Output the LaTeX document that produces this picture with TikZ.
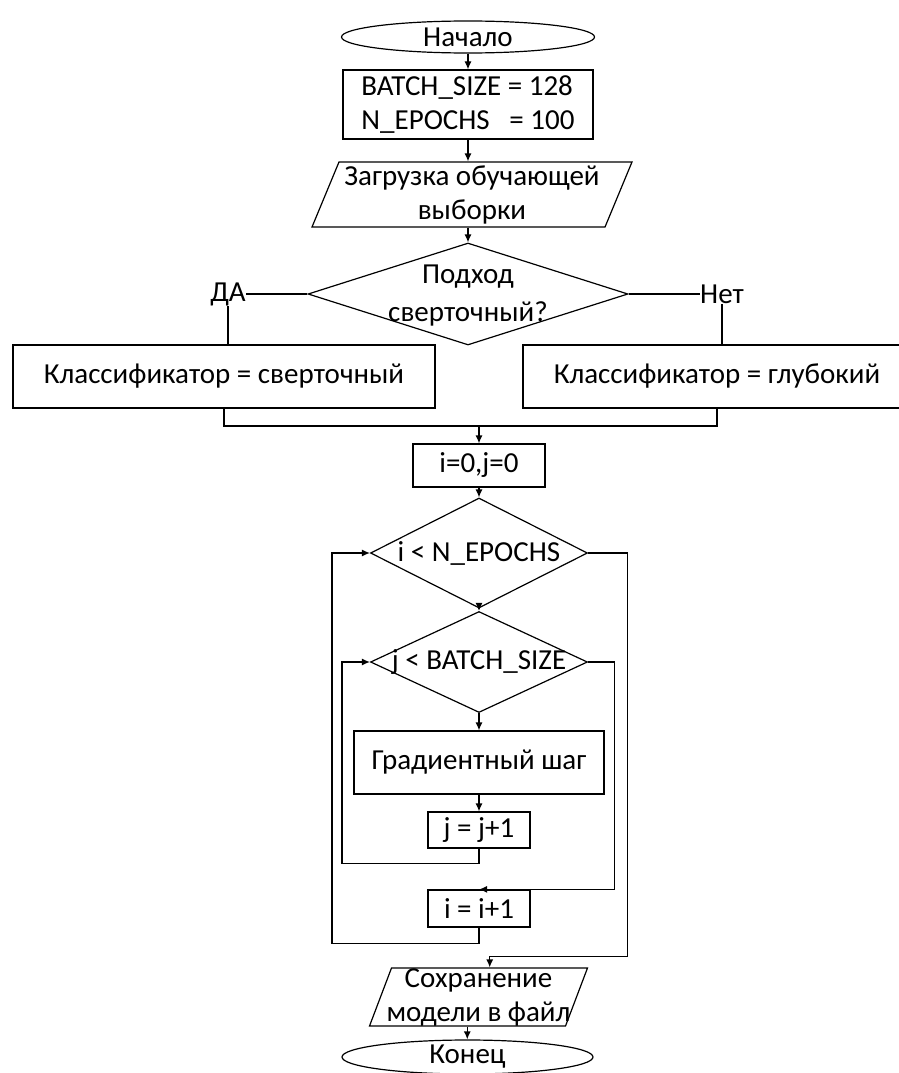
\documentclass[tikz,border=0pt]{standalone}
\usepackage{fontspec}
\setmainfont{Carlito}
\usetikzlibrary{shapes.geometric,arrows.meta}

\begin{document}
\begin{tikzpicture}[x=1pt,y=-1pt,line width=1.2pt,>={Latex[length=8pt,width=7pt]}]
	\tikzstyle{every node}+=[inner sep=0pt,font=\fontsize{29}{34}\selectfont]
	\tikzstyle{terminal}=[draw,ellipse]
	\tikzstyle{process}=[draw,rectangle,align=center]
	\tikzstyle{io}=[draw,rectangle]
	\tikzstyle{decision}=[draw,diamond]
	\useasboundingbox (0,0) rectangle (899,1073);
	\node [terminal,minimum width=253,minimum height=32] (start) at (468,37) {Начало};
	\node [process,align=left,minimum width=250,minimum height=69] (consts) at (468,104.5) {BATCH\_SIZE = 128\\N\_EPOCHS\ \ \ = 100};
	\node [io,xslant=0.415,minimum width=293,minimum height=65,
		label={[align=center]center:Загрузка обучающей\\выборки}] (load) at (472,194.5) {};
	\node [decision,minimum width=320,minimum height=102,
		label={[align=center,yshift=-2pt]center:Подход\\[4pt]сверточный?}] (approach) at (468,294) {};
	\node (yes) at (228,294) {ДА};
	\node (no) at (722,294) {Нет};
	\node [process,minimum width=422,minimum height=63] (conv) at (224,376.5) {Классификатор = сверточный};
	\node [process,minimum width=388,minimum height=63] (deep) at (717,376.5) {Классификатор = глубокий};
	\coordinate (merge) at (479,426);
	\node [process,minimum width=132,minimum height=43] (init) at (479,465.5) {i=0,j=0};
	\node [decision,minimum width=217,minimum height=110,
		label={center:i < N\_EPOCHS}] (epoch) at (479,553) {};
	\node [decision,minimum width=217,minimum height=101,
		label={center:j < BATCH\_SIZE}] (batch) at (479,662) {};
	\node [process,minimum width=250,minimum height=63] (grad) at (479,762.5) {Градиентный шаг};
	\node [process,minimum width=102,minimum height=36] (jinc) at (479,830) {j = j+1};
	\node [process,minimum width=102,minimum height=37] (iinc) at (479,908.5) {i = i+1};
	\node [io,xslant=0.379,minimum width=196,minimum height=58,
		label={[align=center]center:Сохранение\\модели в файл}] (save) at (478.5,997) {};
	\node [terminal,minimum width=251,minimum height=34] (stop) at (467.5,1057) {Конец};
	\draw [->] (start.south) -- (start.south |- consts.north);
	\draw [->] (consts.south) -- (consts.south |- load.north);
	\draw [->] (approach.north |- load.south) -- (approach.north);
	\draw (approach.west) -- (yes.east);
	\draw (approach.east) -- (no.west);
	\draw (yes.south) -- (yes.south |- conv.north);
	\draw (no.south) -- (no.south |- deep.north);
	\draw (conv.south) |- (merge) -| (deep.south);
	\draw [->] (merge) -- (init.north);
	\draw [->] (init.south) -- (epoch.north);
	\draw [->] (epoch.south) -- (batch.north);
	\draw [->] (batch.south) -- (grad.north);
	\draw [->] (grad.south) -- (jinc.north);
	\draw [->] (jinc.south) -- ++(0,15) -| ([xshift=-28pt]batch.west) -- (batch.west);
	\draw [->] (batch.east) -- ++(26,0) |- (iinc.north);
	\draw [->] (iinc.south) -- ++(0,16) -| ([xshift=-38pt]epoch.west) -- (epoch.west);
	\draw [->] (epoch.east) -- ++(39,0) |- ([yshift=11pt]save.north) -- (save.north);
	\draw [->] (save.south) -- (save.south |- stop.north);
\end{tikzpicture}
\end{document}
